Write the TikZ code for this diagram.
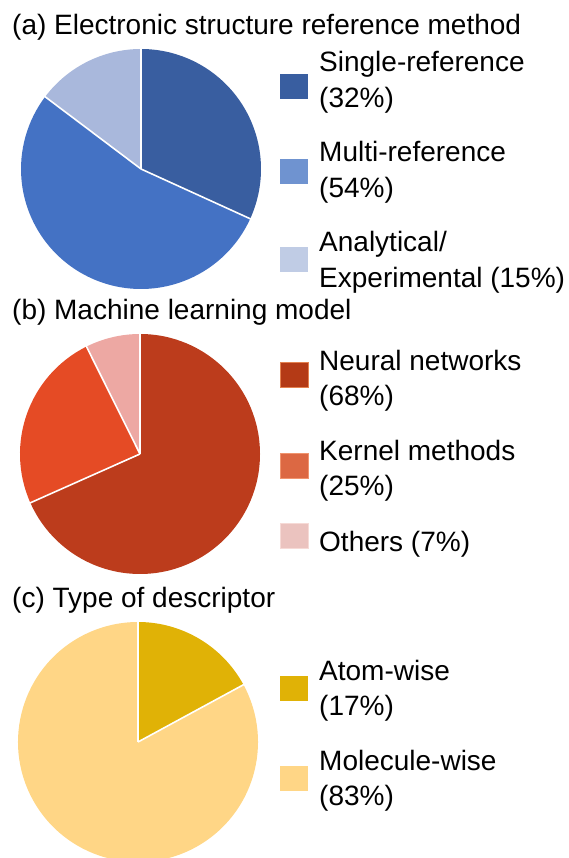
\documentclass[tikz,border=0pt]{standalone}
\usepackage{fontspec}
\setmainfont{Liberation Sans}
\definecolor{aS}{HTML}{395EA0}
\definecolor{aM}{HTML}{4472C4}
\definecolor{aA}{HTML}{A9B8DC}
\definecolor{aMl}{HTML}{6F93D0}
\definecolor{aAl}{HTML}{C0CCE5}
\definecolor{bN}{HTML}{BC3C1C}
\definecolor{bK}{HTML}{E54B25}
\definecolor{bO}{HTML}{EDA8A3}
\definecolor{bNl}{HTML}{B43A16}
\definecolor{bNb}{HTML}{E4814F}
\definecolor{bKl}{HTML}{DC6843}
\definecolor{bKb}{HTML}{F0946E}
\definecolor{bOl}{HTML}{EBC3BF}
\definecolor{bOb}{HTML}{F6DAD6}
\definecolor{cA}{HTML}{E0B206}
\definecolor{cM}{HTML}{FFD686}
\tikzset{
  txt/.style={anchor=base west, inner sep=0pt, font=\fontsize{28}{34}\selectfont},
  key/.style={minimum width=28pt, minimum height=25pt, inner sep=0pt, anchor=south west},
  sep/.style={draw=white, line width=1.6pt}
}
\begin{document}
\begin{tikzpicture}[x=1pt,y=1pt]
\useasboundingbox (0,0) rectangle (568,858);
% ---------- (a) ----------
\node[txt] (ta) at (12,823) {(a) Electronic structure reference method};
\coordinate (ca) at (141,689);
\fill[aS] (ca) -- ++(90:120) arc[start angle=90, end angle=-24.5, radius=120] -- cycle;
\fill[aM] (ca) -- ++(-24.5:120) arc[start angle=-24.5, end angle=-217, radius=120] -- cycle;
\fill[aA] (ca) -- ++(143:120) arc[start angle=143, end angle=90, radius=120] -- cycle;
\draw[sep] (ca) -- ++(90:120.5);
\draw[sep] (ca) -- ++(-24.5:120.5);
\draw[sep] (ca) -- ++(143:120.5);
\node[key, fill=aS] (ka1) at (280,759) {};
\node[key, fill=aMl] (ka2) at (280,674) {};
\node[key, fill=aAl] (ka3) at (280,586) {};
\node[txt] (la1) at (319,786) {Single-reference};
\node[txt] (la1b) at (319,750) {(32\%)};
\node[txt] (la2) at (319,696) {Multi-reference};
\node[txt] (la2b) at (319,660) {(54\%)};
\node[txt] (la3) at (319,606) {Analytical/};
\node[txt] (la3b) at (319,570) {Experimental (15\%)};
% ---------- (b) ----------
\node[txt] (tb) at (12,538) {(b) Machine learning model};
\coordinate (cb) at (140,404);
\fill[bN] (cb) -- ++(90:120) arc[start angle=90, end angle=-156, radius=120] -- cycle;
\fill[bK] (cb) -- ++(-156:120) arc[start angle=-156, end angle=-243.5, radius=120] -- cycle;
\fill[bO] (cb) -- ++(116.5:120) arc[start angle=116.5, end angle=90, radius=120] -- cycle;
\draw[sep] (cb) -- ++(90:120.5);
\draw[sep] (cb) -- ++(-156:120.5);
\draw[sep] (cb) -- ++(116.5:120.5);
\node[key, fill=bNl, draw=bNb, line width=0.6pt] (kb1) at (280,470) {};
\node[key, fill=bKl, draw=bKb, line width=0.6pt] (kb2) at (280,379) {};
\node[key, fill=bOl, draw=bOb, line width=0.6pt] (kb3) at (280,309) {};
\node[txt] (lb1) at (319,487) {Neural networks};
\node[txt] (lb1b) at (319,452) {(68\%)};
\node[txt] (lb2) at (319,397) {Kernel methods};
\node[txt] (lb2b) at (319,362) {(25\%)};
\node[txt] (lb3) at (319,306) {Others (7\%)};
% ---------- (c) ----------
\node[txt] (tc) at (12,250) {(c) Type of descriptor};
\coordinate (cc) at (138,116);
\fill[cA] (cc) -- ++(90:120) arc[start angle=90, end angle=28.5, radius=120] -- cycle;
\fill[cM] (cc) -- ++(28.5:120) arc[start angle=28.5, end angle=-270, radius=120] -- cycle;
\draw[sep] (cc) -- ++(90:120.5);
\draw[sep] (cc) -- ++(28.5:120.5);
\node[key, fill=cA] (kc1) at (280,157) {};
\node[key, fill=cM] (kc2) at (280,67) {};
\node[txt] (lc1) at (319,177) {Atom-wise};
\node[txt] (lc1b) at (319,142) {(17\%)};
\node[txt] (lc2) at (319,87) {Molecule-wise};
\node[txt] (lc2b) at (319,52) {(83\%)};
\end{tikzpicture}
\end{document}
